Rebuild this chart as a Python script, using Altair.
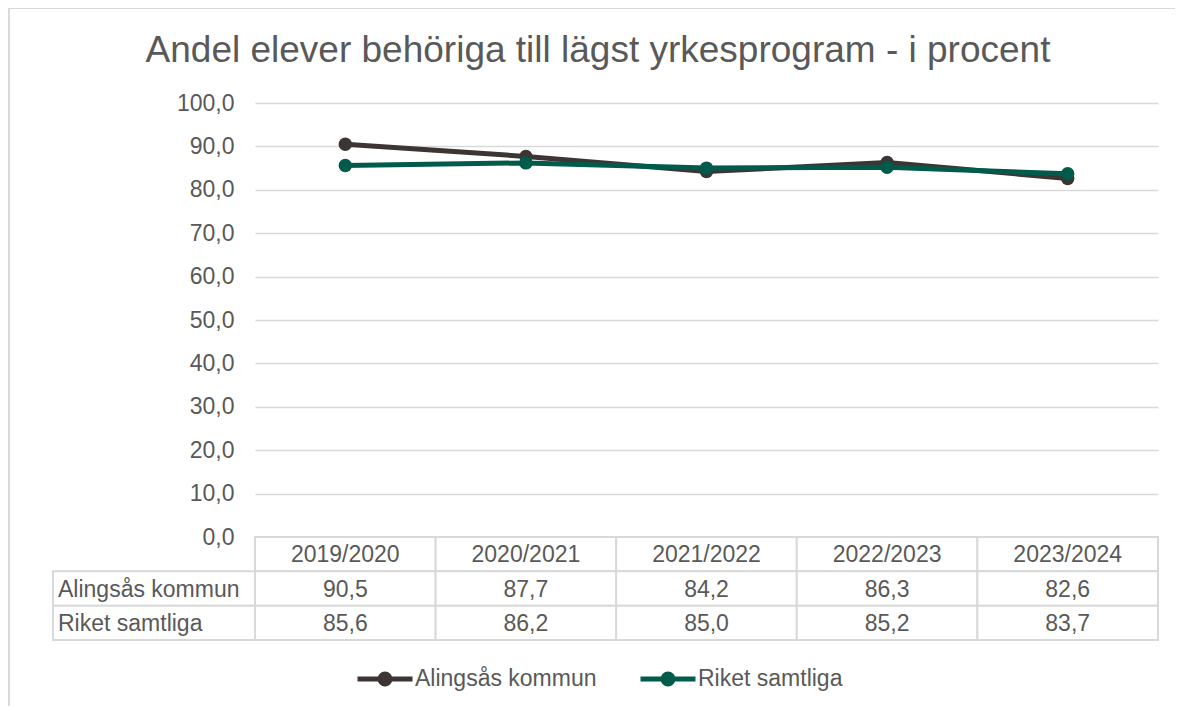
import altair as alt
import pandas as pd

# ---- data ----
years = ["2019/2020", "2020/2021", "2021/2022", "2022/2023", "2023/2024"]
series_names = ["Alingsås kommun", "Riket samtliga"]
alingsas = [90.5, 87.7, 84.2, 86.3, 82.6]
riket = [85.6, 86.2, 85.0, 85.2, 83.7]
y_ticks = [0, 10, 20, 30, 40, 50, 60, 70, 80, 90, 100]
title_text = "Andel elever behöriga till lägst yrkesprogram - i procent"
colors = ["#3d3533", "#005b4b"]

TEXT = "#595959"
GRID = "#d9d9d9"
FONT = "Liberation Sans"
FS = 23

def fmt(v):
    return f"{v:.1f}".replace(".", ",")

rows = []
for name, vals in zip(series_names, [alingsas, riket]):
    for y, v in zip(years, vals):
        rows.append({"year": y, "series": name, "value": v, "label": fmt(v)})
df = pd.DataFrame(rows)

row_domain = ["header"] + series_names
table_rows = []
for y in years:
    table_rows.append({"year": y, "row": "header", "text": y})
for name, vals in zip(series_names, [alingsas, riket]):
    for y, v in zip(years, vals):
        table_rows.append({"year": y, "row": name, "text": fmt(v)})
tdf = pd.DataFrame(table_rows)
ldf = pd.DataFrame({"row": series_names})

W, H = 903, 434

xscale = alt.Scale(domain=years, paddingInner=0, paddingOuter=0)
yscale = alt.Scale(domain=[0, 100], nice=False)
tyscale = alt.Scale(domain=row_domain, range=[H, H + 103], paddingInner=0, paddingOuter=0)
cscale = alt.Scale(domain=series_names, range=colors)

legend_path = "M-1,0L1,0M-0.18,0A0.18,0.18,0,1,1,0.18,0A0.18,0.18,0,1,1,-0.18,0Z"

yaxis = alt.Axis(
    values=y_ticks,
    labelExpr="replace(format(datum.value, '.1f'), '.', ',')",
    labelFontSize=FS, labelColor=TEXT, labelFont=FONT, labelPadding=21,
    ticks=False, domain=False, grid=True, gridColor=GRID, gridWidth=1.5,
    title=None,
)

leg = alt.Legend(
    orient="none", direction="horizontal", legendX=100, legendY=546,
    title=None, symbolType=legend_path, symbolSize=3025, symbolStrokeWidth=5,
    labelFontSize=FS, labelColor=TEXT, labelFont=FONT, labelOffset=0,
    labelLimit=0, columnPadding=33, symbolOpacity=1,
)

base = alt.Chart(df)

# chart frame
frame = alt.Chart(pd.DataFrame({"a": [0]})).mark_rect(
    fill="transparent", stroke=GRID, strokeWidth=2
).encode(
    x=alt.value(-246), x2=alt.value(1000), y=alt.value(-95), y2=alt.value(700)
)

title = alt.Chart(pd.DataFrame({"t": [title_text]})).mark_text(
    fontSize=37, color=TEXT, font=FONT, align="center", baseline="alphabetic"
).encode(x=alt.value(343), y=alt.value(-41), text="t:N")

layers = [frame, title]
for i, name in enumerate(series_names):
    sub = base.transform_filter(alt.datum.series == name)
    line = sub.mark_line(strokeWidth=5).encode(
        x=alt.X("year:N", scale=xscale, bandPosition=0.5, axis=None, sort=years),
        y=alt.Y("value:Q", scale=yscale, axis=yaxis if i == 0 else None),
        stroke=alt.Stroke("series:N", scale=cscale, legend=leg),
    )
    pts = sub.mark_circle(size=180, opacity=1, strokeWidth=0).encode(
        x=alt.X("year:N", scale=xscale, bandPosition=0.5, axis=None, sort=years),
        y=alt.Y("value:Q", scale=yscale, axis=None),
        fill=alt.Fill("series:N", scale=cscale, legend=leg),
        stroke=alt.Stroke("series:N", scale=cscale, legend=leg),
    )
    layers += [line, pts]

tbase = alt.Chart(tdf)
cells = tbase.mark_rect(fill="white", stroke=GRID, strokeWidth=2).encode(
    x=alt.X("year:N", scale=xscale, axis=None, sort=years),
    y=alt.Y("row:N", scale=tyscale, axis=None),
)
cell_text = tbase.mark_text(fontSize=FS, color=TEXT, font=FONT, align="center", baseline="middle", dy=1).encode(
    x=alt.X("year:N", scale=xscale, bandPosition=0.5, axis=None, sort=years),
    y=alt.Y("row:N", scale=tyscale, axis=None, bandPosition=0.5),
    text="text:N",
)
lbl_cells = alt.Chart(ldf).mark_rect(fill="white", stroke=GRID, strokeWidth=2).encode(
    x=alt.value(-202), x2=alt.value(0),
    y=alt.Y("row:N", scale=tyscale, axis=None),
)
lbl_text = alt.Chart(ldf).mark_text(fontSize=FS, color=TEXT, font=FONT, align="left", baseline="middle", dy=1).encode(
    x=alt.value(-197),
    y=alt.Y("row:N", scale=tyscale, axis=None, bandPosition=0.5),
    text="row:N",
)
layers += [cells, cell_text, lbl_cells, lbl_text]

chart = alt.layer(*layers).resolve_scale(y="independent").properties(
    width=W, height=H,
    autosize=alt.AutoSizeParams(type="none"),
    padding={"left": 247, "top": 95, "right": 17, "bottom": 169},
    background="white",
).configure_view(stroke=None)

chart.save("out.html", embed_options={"renderer": "svg", "actions": False})
